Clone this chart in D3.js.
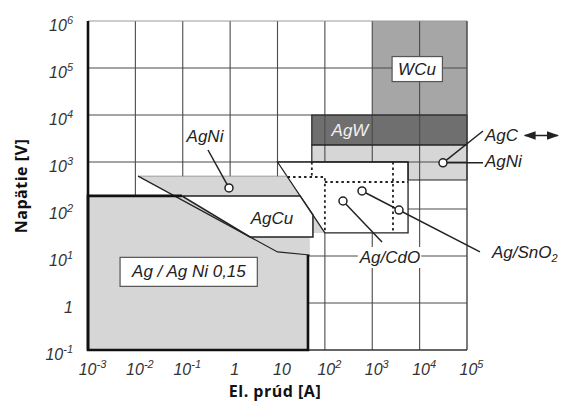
<!DOCTYPE html>
<html>
<head>
<meta charset="utf-8">
<style>
body, html {
	margin: 0;
	background: #fff;
}
svg { display: block; }
.tick-label {
	font-family: "Liberation Sans", Arial, sans-serif;
	font-style: italic;
	font-size: 16px;
	fill: #333;
}
.axis-title {
	font-family: "Open Sans", sans-serif;
	font-weight: bold;
	font-size: 16px;
	letter-spacing: 0.5px;
	fill: #111;
}
.region-label {
	font-family: "Liberation Sans", Arial, sans-serif;
	font-style: italic;
	font-size: 17px;
	fill: #222;
}
</style>
</head>
<body>
<div id="chartContainer"></div>

<script src="https://cdn.jsdelivr.net/npm/d3@7"></script>
<script>

const WIDTH = 571;
const HEIGHT = 403;
const margin = {top: 21, right: 104, bottom: 53, left: 88};

const GRID_COLOR = '#4a4a4a';
const LINE_COLOR = '#222';
const LIGHT_GRAY = '#d6d6d6';
const MID_GRAY = '#a6a6a6';
const DARK_GRAY = '#6f6f6f';

// axes
const xTicks = [1e-3, 1e-2, 1e-1, 1, 10, 1e2, 1e3, 1e4, 1e5];
const xTickLabels = ["10^-3", "10^-2", "10^-1", "1", "10", "10^2", "10^3", "10^4", "10^5"];
const yTicks = [1e-1, 1, 10, 1e2, 1e3, 1e4, 1e5, 1e6];
const yTickLabels = ["10^-1", "1", "10^1", "10^2", "10^3", "10^4", "10^5", "10^6"];

// regions as [current A, voltage V]
const wcuRegion = [[1e3, 1e6], [1e5, 1e6], [1e5, 1e4], [1e3, 1e4]];
const agwRegion = [[53, 1e4], [1e5, 1e4], [1e5, 2300], [53, 2300]];
const agcRegion = [[53, 2300], [1e5, 2300], [1e5, 414], [5700, 414], [5700, 1000], [53, 1000]];
const agAgNiRegion = [[1e-3, 0.1], [1e-3, 190], [44, 190], [44, 0.1]];
const agNiRegion = [[0.0114, 500], [15.8, 500], [100, 31], [48, 31], [48, 10.5], [10, 12.2]];
const agCuRegion = [[0.096, 190], [30, 190], [56, 74.5], [56, 25.4], [2.63, 25.4]];
const cdoRegion = [[10, 1000], [5700, 1000], [5700, 31], [100, 31]];

const agAgNiBorder = [[44, 10.5], [44, 0.1], [1e-3, 0.1], [1e-3, 190], [0.096, 190]];
const agNiEdges = [
	[[0.0114, 500], [15.8, 500]],
	[[0.0114, 500], [10, 12.2], [48, 10.5]]
];
const dashedLines = [
	[[53, 1000], [53, 480]],
	[[16.3, 480], [100, 480], [100, 31]],
	[[100, 375], [5700, 375]],
	[[2740, 1000], [2740, 31]]
];

// annotations
const leaders = [
	[[0.341, 1800], [0.946, 280]],
	[[241, 148], [1607, 19.9]],
	[[608, 242], [188000, 12.2]],
	[[31100, 960], [217700, 4570]],
	[[31100, 960], [217700, 960]]
];
const markers = [[0.946, 280], [241, 148], [608, 242], [3670, 95], [31100, 960]];
const plainLabels = [
	{text: "AgNi", at: [0.295, 3570], anchor: "middle"},
	{text: "AgCu", at: [7.65, 64.4], anchor: "middle"},
	{text: "AgC", at: [240000, 3750], anchor: "start"},
	{text: "AgNi", at: [240000, 1050], anchor: "start"}
];
const boxedLabels = [
	{text: "WCu", at: [8800, 97000], padX: 6, padY: 3, border: true},
	{text: "Ag / Ag Ni 0,15", at: [0.135, 4.7], padX: 11, padY: 5, border: true},
	{text: "Ag/CdO", at: [2370, 9.5], padX: 1, padY: 1, border: false}
];

var svg = d3.select("#chartContainer").append("svg")
	.attr("width", WIDTH)
	.attr("height", HEIGHT);

var x = d3.scaleLog()
	.domain([1e-3, 1e5])
	.range([margin.left, WIDTH - margin.right]);
var y = d3.scaleLog()
	.domain([1e-1, 1e6])
	.range([HEIGHT - margin.bottom, margin.top]);

var line = d3.line().x(d => x(d[0])).y(d => y(d[1]));
var poly = (pts) => line(pts) + "Z";

var chart = svg.append("g").attr("class", "chart");

// gray bands that show the grid through them
chart.append("path").attr("d", poly(wcuRegion)).attr("fill", MID_GRAY);
chart.append("path").attr("d", poly(agwRegion)).attr("fill", DARK_GRAY);
chart.append("path").attr("d", poly(agcRegion)).attr("fill", LIGHT_GRAY);

// grid
var grid = chart.append("g").attr("class", "grid")
	.attr("stroke", GRID_COLOR)
	.attr("stroke-width", 1.1);
grid.selectAll(".vgrid")
	.data(xTicks.slice(1, -1))
	.enter().append("line")
		.attr("x1", d => x(d)).attr("x2", d => x(d))
		.attr("y1", y(1e6)).attr("y2", y(1e-1));
grid.selectAll(".hgrid")
	.data(yTicks.slice(1, -1))
	.enter().append("line")
		.attr("y1", d => y(d)).attr("y2", d => y(d))
		.attr("x1", x(1e-3)).attr("x2", x(1e5));

// regions that hide the grid
chart.append("path").attr("d", poly(agAgNiRegion)).attr("fill", LIGHT_GRAY);
chart.append("path").attr("d", poly(agNiRegion)).attr("fill", LIGHT_GRAY);
chart.append("path").attr("d", poly(cdoRegion)).attr("fill", "#fff")
	.attr("stroke", LINE_COLOR).attr("stroke-width", 1.3);
chart.append("path").attr("d", poly(agCuRegion)).attr("fill", "#fff")
	.attr("stroke", LINE_COLOR).attr("stroke-width", 1.5);

chart.append("path").attr("d", poly(agwRegion)).attr("fill", "none")
	.attr("stroke", LINE_COLOR).attr("stroke-width", 1.2);
chart.append("path").attr("d", poly(agcRegion)).attr("fill", "none")
	.attr("stroke", LINE_COLOR).attr("stroke-width", 1.2);

agNiEdges.forEach(function(e, i) {
	chart.append("path").attr("d", line(e)).attr("fill", "none")
		.attr("stroke", i == 0 ? "#888" : LINE_COLOR)
		.attr("stroke-width", i == 0 ? 0.8 : 1.2);
});

chart.selectAll(".dashed")
	.data(dashedLines)
	.enter().append("path")
		.attr("d", d => line(d))
		.attr("fill", "none")
		.attr("stroke", LINE_COLOR)
		.attr("stroke-width", 1.8)
		.attr("stroke-dasharray", "2.5,3");

// frame
var frame = chart.append("g").attr("fill", "none");
frame.append("line")
	.attr("x1", x(1e-3)).attr("x2", x(1e5)).attr("y1", y(1e6)).attr("y2", y(1e6))
	.attr("stroke", "#999").attr("stroke-width", 1);
frame.append("line")
	.attr("x1", x(1e5)).attr("x2", x(1e5)).attr("y1", y(1e6)).attr("y2", y(1e-1))
	.attr("stroke", "#444").attr("stroke-width", 1.4);
frame.append("line")
	.attr("x1", x(1e-3)).attr("x2", x(1e5)).attr("y1", y(1e-1)).attr("y2", y(1e-1))
	.attr("stroke", "#333").attr("stroke-width", 1.6);
frame.append("line")
	.attr("x1", x(1e-3)).attr("x2", x(1e-3)).attr("y1", y(1e6)).attr("y2", y(1e-1))
	.attr("stroke", "#111").attr("stroke-width", 2.6);
frame.append("path").attr("d", line(agAgNiBorder))
	.attr("stroke", "#111").attr("stroke-width", 2.6);

// leaders and markers
chart.selectAll(".leader")
	.data(leaders)
	.enter().append("path")
		.attr("d", d => line(d))
		.attr("fill", "none")
		.attr("stroke", LINE_COLOR)
		.attr("stroke-width", 1.5);
chart.selectAll(".marker")
	.data(markers)
	.enter().append("circle")
		.attr("cx", d => x(d[0]))
		.attr("cy", d => y(d[1]))
		.attr("r", 4)
		.attr("fill", "#fff")
		.attr("stroke", LINE_COLOR)
		.attr("stroke-width", 1.5);

// labels
plainLabels.forEach(function(l) {
	chart.append("text")
		.attr("class", "region-label")
		.attr("x", x(l.at[0]))
		.attr("y", y(l.at[1]))
		.attr("dy", "0.35em")
		.attr("text-anchor", l.anchor)
		.text(l.text);
});

chart.append("text")
	.attr("class", "region-label")
	.attr("x", x(339))
	.attr("y", y(4790))
	.attr("dy", "0.35em")
	.attr("text-anchor", "middle")
	.style("fill", "#f2f2f2")
	.text("AgW");

var sno = chart.append("text")
	.attr("class", "region-label")
	.attr("x", x(337000))
	.attr("y", y(12.2))
	.attr("dy", "0.35em");
sno.append("tspan").text("Ag/SnO");
sno.append("tspan").attr("font-size", "11px").attr("dy", "4").text("2");

boxedLabels.forEach(function(l) {
	var g = chart.append("g");
	var rect = g.append("rect");
	var t = g.append("text")
		.attr("class", "region-label")
		.attr("x", x(l.at[0]))
		.attr("y", y(l.at[1]))
		.attr("dy", "0.35em")
		.attr("text-anchor", "middle")
		.text(l.text);
	var bb = t.node().getBBox();
	rect.attr("x", bb.x - l.padX)
		.attr("y", bb.y - l.padY)
		.attr("width", bb.width + 2 * l.padX)
		.attr("height", bb.height + 2 * l.padY)
		.attr("fill", "#fff")
		.attr("stroke", l.border ? "#555" : "none")
		.attr("stroke-width", 1.2);
});

// double arrow after AgC
var agcBox = chart.selectAll("text.region-label").filter(function() { return this.textContent == "AgC"; }).node().getBBox();
var defs = svg.append("defs");
defs.append("marker")
	.attr("id", "head")
	.attr("viewBox", "0 0 10 10")
	.attr("refX", 9).attr("refY", 5)
	.attr("markerWidth", 8).attr("markerHeight", 8)
	.attr("orient", "auto-start-reverse")
	.append("path").attr("d", "M0,1.5L10,5L0,8.5Z").attr("fill", LINE_COLOR);
chart.append("line")
	.attr("x1", agcBox.x + agcBox.width + 6)
	.attr("x2", agcBox.x + agcBox.width + 39)
	.attr("y1", agcBox.y + agcBox.height / 2)
	.attr("y2", agcBox.y + agcBox.height / 2)
	.attr("stroke", LINE_COLOR)
	.attr("stroke-width", 1.5)
	.attr("marker-start", "url(#head)")
	.attr("marker-end", "url(#head)");

// tick labels
function powerLabel(sel, label, supSize, supShift) {
	var parts = label.split("^");
	sel.text(null);
	sel.append("tspan").text(parts[0]);
	if (parts.length > 1) {
		sel.append("tspan")
			.attr("font-size", supSize)
			.attr("dy", supShift)
			.text(parts[1]);
	}
}

var gx = svg.append("g")
	.attr("transform", `translate(0,${y(1e-1)})`)
	.call(d3.axisBottom(x).tickValues(xTicks).tickSize(0).tickPadding(10).tickFormat(""));
gx.select(".domain").remove();
gx.selectAll(".tick text")
	.attr("class", "tick-label")
	.attr("font-size", null)
	.attr("font-family", null)
	.attr("fill", null)
	.attr("dy", "0.95em")
	.attr("dx", "4")
	.each(function(d, i) { powerLabel(d3.select(this), xTickLabels[i], "11px", "-7"); });

var gy = svg.append("g")
	.attr("transform", `translate(${x(1e-3)},0)`)
	.call(d3.axisLeft(y).tickValues(yTicks).tickSize(0).tickPadding(15).tickFormat(""));
gy.select(".domain").remove();
gy.selectAll(".tick text")
	.attr("class", "tick-label")
	.attr("font-size", null)
	.attr("font-family", null)
	.attr("fill", null)
	.attr("dy", "0.6em")
	.each(function(d, i) { powerLabel(d3.select(this), yTickLabels[i], "11px", "-7"); });
gx.attr("font-family", null).attr("font-size", null);
gy.attr("font-family", null).attr("font-size", null);

// axis titles
svg.append("text")
	.attr("class", "axis-title")
	.attr("text-anchor", "middle")
	.attr("x", 275)
	.attr("y", 397)
	.text("El. prúd [A]");
svg.append("text")
	.attr("class", "axis-title")
	.attr("text-anchor", "middle")
	.attr("transform", "translate(27,186) rotate(-90)")
	.text("Napätie [V]");

</script>
</body>
</html>
